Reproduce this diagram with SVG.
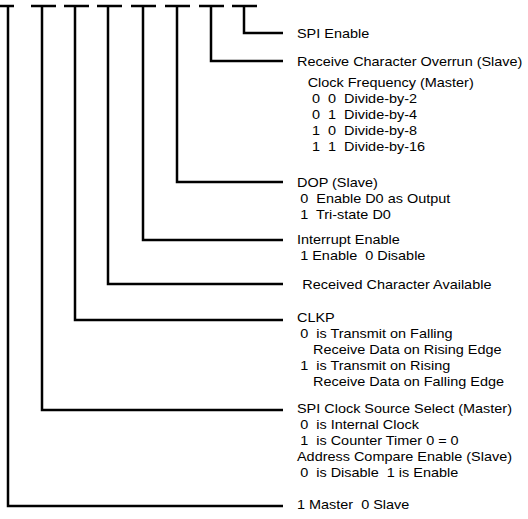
<svg xmlns="http://www.w3.org/2000/svg" width="528" height="519" viewBox="0 0 528 519">
<style>
.ln{fill:none;stroke:#000;stroke-width:2.5;stroke-linejoin:miter;stroke-linecap:butt}
.t{font-family:"Liberation Sans",Arial,Helvetica,sans-serif;font-size:13.5px;fill:#000;white-space:pre}
</style>
<rect width="528" height="519" fill="#fff"/>
<g id="bits" class="ln">
<path d="M0,6H14M31,6H56M64,6H89M97,6H122M131,6H156M165,6H190M199,6H224M232,6H257"/>
</g>
<g id="connectors" class="ln">
<path d="M8,6V506H283"/>
<path d="M42,6V410H283"/>
<path d="M75,6V320H283"/>
<path d="M108,6V284H283"/>
<path d="M143,6V240H283"/>
<path d="M177,6V182H283"/>
<path d="M211,6V61H283"/>
<path d="M244,6V33H283"/>
</g>
<g class="t" transform="matrix(1.07,0,0,1,-20.79,0)">
<g id="spi-enable"><text x="297" y="38">SPI Enable</text></g>
<g id="overrun-clock">
<text x="297" y="66">Receive Character Overrun (Slave)</text>
<text x="307" y="87">Clock Frequency (Master)</text>
<text x="311" y="103" xml:space="preserve">0  0  Divide-by-2</text>
<text x="311" y="119" xml:space="preserve">0  1  Divide-by-4</text>
<text x="311" y="135" xml:space="preserve">1  0  Divide-by-8</text>
<text x="311" y="151" xml:space="preserve">1  1  Divide-by-16</text>
</g>
<g id="dop">
<text x="297" y="187">DOP (Slave)</text>
<text x="300" y="203" xml:space="preserve">0  Enable D0 as Output</text>
<text x="300" y="219" xml:space="preserve">1  Tri-state D0</text>
</g>
<g id="interrupt-enable">
<text x="297" y="244">Interrupt Enable</text>
<text x="300" y="260" xml:space="preserve">1 Enable  0 Disable</text>
</g>
<g id="received-char"><text x="302" y="289">Received Character Available</text></g>
<g id="clkp">
<text x="297" y="322">CLKP</text>
<text x="300" y="338" xml:space="preserve">0  is Transmit on Falling</text>
<text x="312" y="354">Receive Data on Rising Edge</text>
<text x="300" y="370" xml:space="preserve">1  is Transmit on Rising</text>
<text x="312" y="386">Receive Data on Falling Edge</text>
</g>
<g id="clock-source">
<text x="297" y="413">SPI Clock Source Select (Master)</text>
<text x="300" y="429" xml:space="preserve">0  is Internal Clock</text>
<text x="300" y="445" xml:space="preserve">1  is Counter Timer 0 = 0</text>
<text x="297" y="461">Address Compare Enable (Slave)</text>
<text x="300" y="477" xml:space="preserve">0  is Disable  1 is Enable</text>
</g>
<g id="master-slave"><text x="297" y="509" xml:space="preserve">1 Master  0 Slave</text></g>
</g>
</svg>
